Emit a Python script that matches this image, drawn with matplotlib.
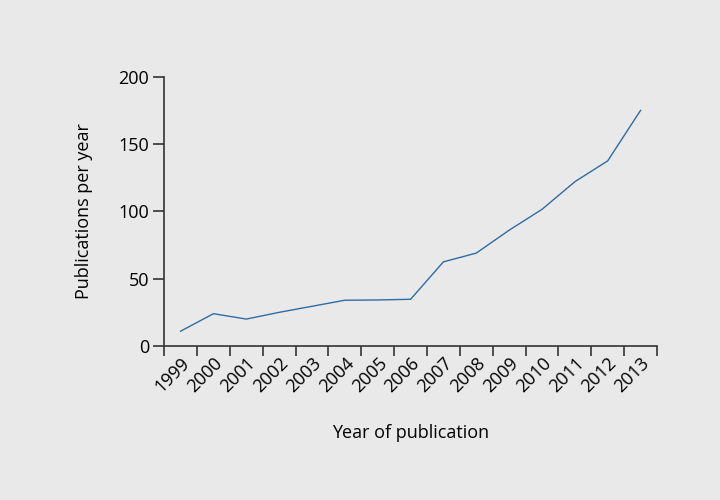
import matplotlib.pyplot as plt
import numpy as np

years = ["1999", "2000", "2001", "2002", "2003", "2004", "2005", "2006",
         "2007", "2008", "2009", "2010", "2011", "2012", "2013"]
publications = [11, 24, 20, 25, 29.5, 34, 34.2, 34.7, 62.5, 69, 86, 101.5, 122, 137.5, 175]

bg = "#e9e9e9"
line_color = "#2f6ca3"
axis_color = "#333333"

plt.rcParams["font.family"] = ["Open Sans", "DejaVu Sans"]

fig = plt.figure(figsize=(7.2, 5.0), dpi=100, facecolor=bg)
ax = fig.add_axes([0.228, 0.308, 0.6845, 0.5386], facecolor=bg)

x = np.arange(len(years))
ax.plot(x, publications, color=line_color, linewidth=1.0)

ax.set_xlim(-0.5, len(years) - 0.5)
ax.set_ylim(0, 200)

# tick marks at category boundaries, labels at category centres
ax.set_xticks(np.arange(len(years) + 1) - 0.5)
ax.set_xticklabels([])
ax.set_xticks(x, minor=True)
ax.set_xticklabels(years, minor=True, rotation=45, ha="right", rotation_mode="anchor", fontsize=13)
ax.tick_params(axis="x", which="minor", length=0, pad=6)
ax.tick_params(axis="x", which="major", length=7, width=1.2, color=axis_color)

ax.set_yticks([0, 50, 100, 150, 200])
ax.tick_params(axis="y", length=8, width=1.2, color=axis_color, labelsize=13, pad=3)

for side in ["top", "right"]:
    ax.spines[side].set_visible(False)
for side in ["left", "bottom"]:
    ax.spines[side].set_color(axis_color)
    ax.spines[side].set_linewidth(1.2)

ax.set_xlabel("Year of publication", fontsize=13, labelpad=20)
ax.set_ylabel("Publications per year", fontsize=13, labelpad=18)

plt.savefig("out.png", dpi=100, facecolor=bg)
